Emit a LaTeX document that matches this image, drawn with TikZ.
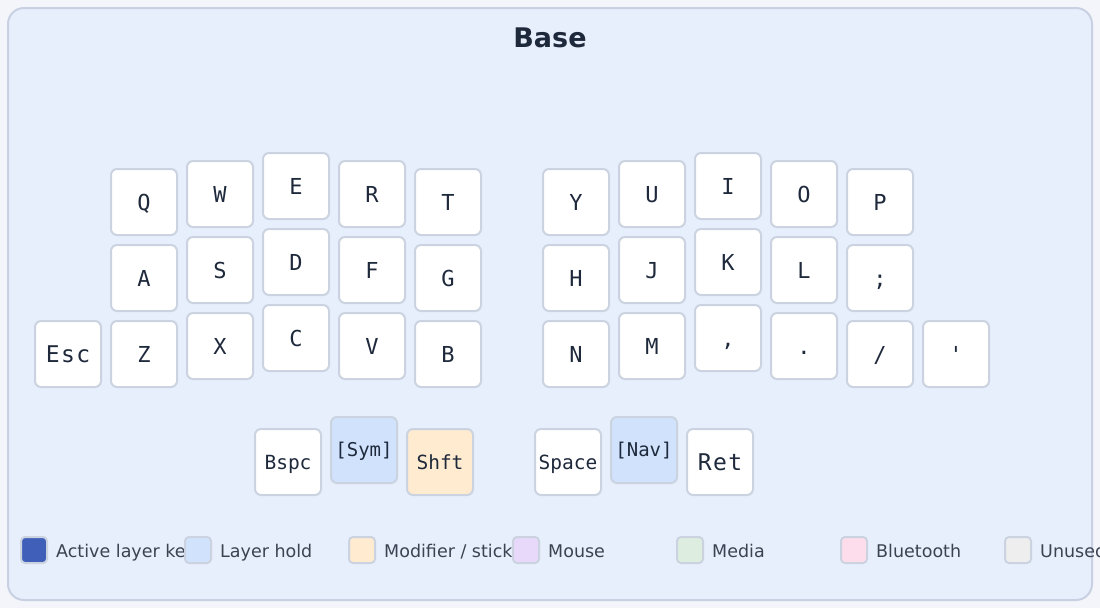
\documentclass[tikz,border=0pt]{standalone}
\usepackage{fontspec}
\setmainfont{DejaVu Sans}
\setmonofont{DejaVu Sans Mono}
\usepackage{tikz}

\definecolor{pagebg}{HTML}{F3F5FA}
\definecolor{panelbg}{HTML}{E8EFFC}
\definecolor{panelline}{HTML}{C8D1E2}
\definecolor{keyline}{HTML}{CBD3E1}
\definecolor{keytext}{HTML}{1E293B}
\definecolor{legtext}{HTML}{3B4252}
\definecolor{activecol}{HTML}{3F5FB9}
\definecolor{holdcol}{HTML}{D1E3FC}
\definecolor{modcol}{HTML}{FEEBD0}
\definecolor{mousecol}{HTML}{E8D9FB}
\definecolor{mediacol}{HTML}{DDEEE0}
\definecolor{btcol}{HTML}{FDDDEC}
\definecolor{unusedcol}{HTML}{EEEEEF}

\newcommand{\kfont}[1]{\ttfamily\fontsize{#1}{#1}\selectfont}

\begin{document}
\begin{tikzpicture}[x=1pt,y=-1pt,
  key/.style={draw=keyline,line width=2pt,fill=white,rounded corners=6pt,
    minimum size=66pt,inner sep=0pt,text height=16pt,text depth=0pt,
    text=keytext,font=\kfont{22}},
  widekey/.style={font=\kfont{19.5},text height=14.2pt},
  bigkey/.style={font=\kfont{23}\addfontfeature{LetterSpace=6},text height=16.8pt},
  holdkey/.style={fill=holdcol,font=\kfont{19},text height=13.9pt},
  swatch/.style={draw=keyline,line width=2pt,rounded corners=4pt,
    minimum size=26pt,inner sep=0pt},
  legend/.style={anchor=west,inner sep=0pt,text=legtext,
    font=\fontsize{17.5}{17.5}\selectfont,text height=12.8pt,text depth=0pt}]

\useasboundingbox (0,0) rectangle (1100,608);
\fill[pagebg] (0,0) rectangle (1100,608);
\draw[draw=panelline,fill=panelbg,line width=2pt,rounded corners=16pt] (8,8) rectangle (1092,600);

\node[text=keytext,inner sep=0pt,font=\bfseries\fontsize{27}{27}\selectfont] (title) at (550,38) {Base};

% left half
\node[key,bigkey] (Esc) at (68,354) {Esc};
\node[key] (Q) at (144,202) {Q};
\node[key] (A) at (144,278) {A};
\node[key] (Z) at (144,354) {Z};
\node[key] (W) at (220,194) {W};
\node[key] (S) at (220,270) {S};
\node[key] (X) at (220,346) {X};
\node[key] (E) at (296,186) {E};
\node[key] (D) at (296,262) {D};
\node[key] (C) at (296,338) {C};
\node[key] (R) at (372,194) {R};
\node[key] (F) at (372,270) {F};
\node[key] (V) at (372,346) {V};
\node[key] (T) at (448,202) {T};
\node[key] (G) at (448,278) {G};
\node[key] (B) at (448,354) {B};

% right half
\node[key] (Y) at (576,202) {Y};
\node[key] (H) at (576,278) {H};
\node[key] (N) at (576,354) {N};
\node[key] (U) at (652,194) {U};
\node[key] (J) at (652,270) {J};
\node[key] (M) at (652,346) {M};
\node[key] (I) at (728,186) {I};
\node[key] (K) at (728,262) {K};
\node[key] (comma) at (728,338) {,};
\node[key] (O) at (804,194) {O};
\node[key] (L) at (804,270) {L};
\node[key] (dot) at (804,346) {.};
\node[key] (P) at (880,202) {P};
\node[key] (semi) at (880,278) {;};
\node[key] (slash) at (880,354) {/};
\node[key] (quote) at (956,354) {\char"27};

% thumbs
\node[key,widekey] (Bspc) at (288,462) {Bspc};
\node[key,holdkey] (Sym) at (364,450) {[Sym]};
\node[key,widekey,fill=modcol] (Shft) at (440,462) {Shft};
\node[key,widekey] (Space) at (568,462) {Space};
\node[key,holdkey] (Nav) at (644,450) {[Nav]};
\node[key,bigkey] (Ret) at (720,462) {Ret};

% legend
\node[swatch,fill=activecol] (sw1) at (34,550) {};
\node[legend] (lg1) at (56,551) {Active layer key};
\node[swatch,fill=holdcol] (sw2) at (198,550) {};
\node[legend] (lg2) at (220,551) {Layer hold};
\node[swatch,fill=modcol] (sw3) at (362,550) {};
\node[legend] (lg3) at (384,551) {Modifier / sticky};
\node[swatch,fill=mousecol] (sw4) at (526,550) {};
\node[legend] (lg4) at (548,551) {Mouse};
\node[swatch,fill=mediacol] (sw5) at (690,550) {};
\node[legend] (lg5) at (712,551) {Media};
\node[swatch,fill=btcol] (sw6) at (854,550) {};
\node[legend] (lg6) at (876,551) {Bluetooth};
\node[swatch,fill=unusedcol] (sw7) at (1018,550) {};
\node[legend] (lg7) at (1040,551) {Unused};
\end{tikzpicture}
\end{document}
